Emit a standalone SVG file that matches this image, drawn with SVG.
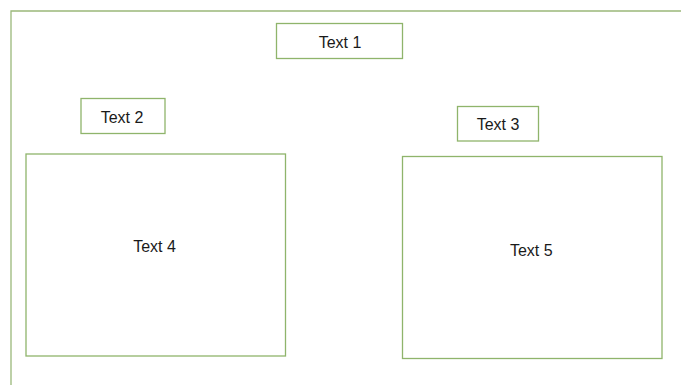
<svg xmlns="http://www.w3.org/2000/svg" width="681" height="385" viewBox="0 0 681 385">
<style>
.box{fill:#ffffff;stroke:#8fb46b;stroke-width:1.3}
.frame{fill:none;stroke:#9ab87a;stroke-width:1.3}
.t{font-family:"Liberation Sans",Arial,sans-serif;font-size:16px;fill:#1a1a1a;text-anchor:middle}
</style>
<rect x="0" y="0" width="681" height="385" fill="#ffffff"/>
<g id="frame"><path class="frame" d="M11 385 V11 H681"/></g>
<g id="node1"><rect class="box" x="276.5" y="23.5" width="126" height="35"/><text class="t" x="340" y="47.5">Text 1</text></g>
<g id="node2"><rect class="box" x="81" y="98.5" width="84" height="35"/><text class="t" x="122" y="122.5">Text 2</text></g>
<g id="node3"><rect class="box" x="457.5" y="106.5" width="81" height="34.5"/><text class="t" x="498" y="130">Text 3</text></g>
<g id="node4"><rect class="box" x="26" y="154" width="259.5" height="202"/><text class="t" x="154.5" y="252">Text 4</text></g>
<g id="node5"><rect class="box" x="402.5" y="156.5" width="259.5" height="202"/><text class="t" x="531.3" y="255.7">Text 5</text></g>
<g id="connectors"></g>
</svg>
